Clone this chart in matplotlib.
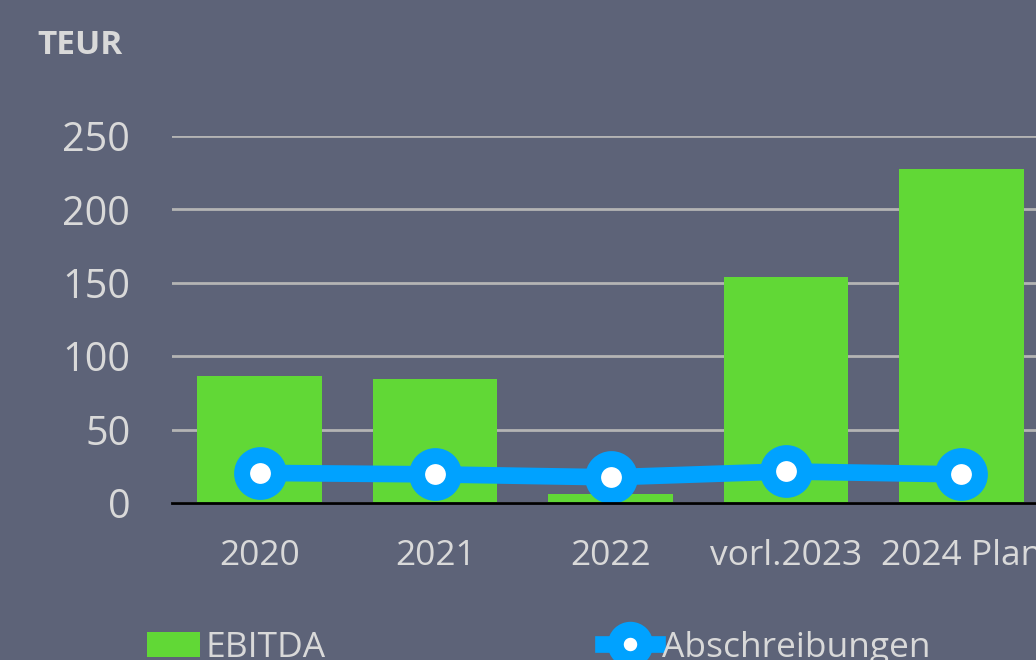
import matplotlib
matplotlib.use("Agg")
import matplotlib.pyplot as plt
import numpy as np

# Werte (TEUR)
jahre = ["2020", "2021", "2022", "vorl.2023", "2024 Plan"]
ebitda = [86.5, 84.5, 6, 154, 227.5]
abschreibungen = [20.5, 19.5, 17.5, 21.5, 19.5]

bg = "#5d6378"
gruen = "#61d836"
blau = "#00a2ff"
text_farbe = "#d9d9d9"

plt.rcParams["font.family"] = ["Open Sans", "DejaVu Sans"]

fig = plt.figure(figsize=(10.36, 6.6), dpi=100, facecolor=bg)
# Achse ragt rechts absichtlich über den Bildrand hinaus (wie im Original)
ax = fig.add_axes([172 / 1036, 157 / 660, 877 / 1036, 367 / 660])
ax.set_facecolor(bg)

x = np.arange(len(jahre))
balken = ax.bar(x, ebitda, width=0.71, color=gruen, label="EBITDA", zorder=2)
linie, = ax.plot(x, abschreibungen, color=blau, lw=12, marker="o", ms=26.5,
                 mew=11.5, mfc="white", mec=blau, label="Abschreibungen",
                 zorder=3)

ax.set_xlim(-0.5, len(jahre) - 0.5)
ax.set_ylim(0, 250)
ax.set_yticks(range(0, 251, 50))
ax.set_xticks(x)
ax.set_xticklabels(jahre)
ax.grid(axis="y", color="#b4b4b4", lw=2, zorder=1)
for s in ["top", "right", "left"]:
    ax.spines[s].set_visible(False)
ax.spines["bottom"].set_color("black")
ax.spines["bottom"].set_linewidth(2)
ax.spines["bottom"].set_zorder(4)
ax.tick_params(axis="both", length=0, colors=text_farbe)
ax.tick_params(axis="y", pad=30, labelsize=28.5)
ax.tick_params(axis="x", pad=26, labelsize=25.5)

fig.text(37 / 1036, 1 - 54 / 660, "TEUR", color=text_farbe, fontsize=24,
         fontweight="bold")

leg = fig.legend([balken, linie], ["EBITDA", "Abschreibungen"],
                 loc="upper left", bbox_to_anchor=(115 / 1036, 1 - 599 / 660),
                 ncol=2, frameon=False, fontsize=25.5, handlelength=1.5,
                 handletextpad=0.15, columnspacing=7.85, markerscale=0.8,
                 labelcolor=text_farbe)

fig.savefig("out.png", dpi=100, facecolor=bg)
